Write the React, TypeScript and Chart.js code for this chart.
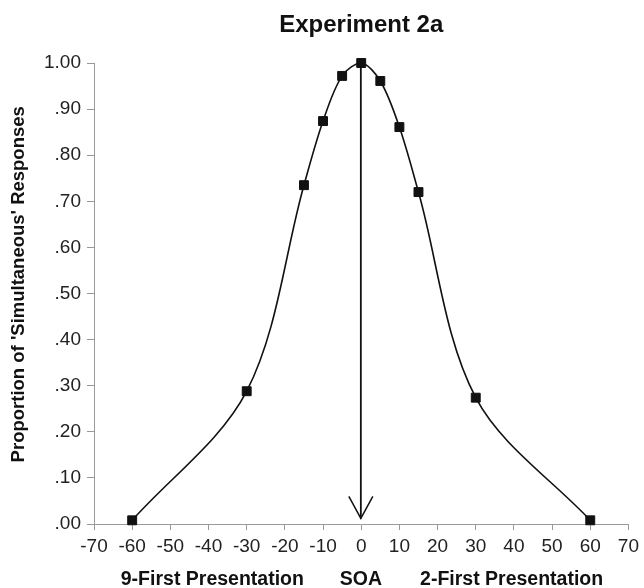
import { useEffect, useRef } from "react";
import { Chart, registerables } from "chart.js";

Chart.register(...registerables);

const FONT = "'Liberation Sans', Arial, Helvetica, sans-serif";

const SOA = [-60, -30, -15, -10, -5, 0, 5, 10, 15, 30, 60];
const PROPORTION = [0.008, 0.288, 0.735, 0.874, 0.972, 1.0, 0.961, 0.861, 0.72, 0.274, 0.008];

const X_MIN = -70;
const X_MAX = 70;
const X_STEP = 10;
const Y_MIN = 0;
const Y_MAX = 1;
const Y_STEP = 0.1;

const TITLE = "Experiment 2a";
const Y_TITLE = "Proportion of 'Simultaneous' Responses";
const X_TITLE_PARTS = ["9-First Presentation", "SOA", "2-First Presentation"];
const X_TITLE_AT = [-39, -0.1, 39.4];

const ARROW_X = -0.1;
const ARROW_FROM = 1.0;
const ARROW_TO = 0.012;

const formatY = (v: number) => (Math.abs(v - 1) < 1e-9 ? "1.00" : v.toFixed(2).replace(/^0/, ""));

const annotations = {
  id: "annotations",
  beforeDatasetsDraw(chart: any) {
    const { ctx, scales } = chart;
    const x = scales.x;
    const y = scales.y;
    const ax = x.getPixelForValue(ARROW_X);
    const y0 = y.getPixelForValue(ARROW_FROM);
    const y1 = y.getPixelForValue(ARROW_TO);
    ctx.save();
    ctx.strokeStyle = "#111";
    ctx.lineWidth = 1.8;
    ctx.beginPath();
    ctx.moveTo(ax, y0);
    ctx.lineTo(ax, y1);
    ctx.stroke();
    ctx.lineWidth = 1.5;
    ctx.beginPath();
    ctx.moveTo(ax - 12, y1 - 22);
    ctx.lineTo(ax, y1);
    ctx.lineTo(ax + 12, y1 - 22);
    ctx.stroke();
    ctx.restore();
  },
  afterDraw(chart: any) {
    const { ctx, scales, chartArea } = chart;
    const x = scales.x;
    const cx = (chartArea.left + chartArea.right) / 2;
    ctx.save();
    ctx.fillStyle = "#111";
    ctx.textAlign = "center";
    ctx.textBaseline = "middle";
    ctx.font = `bold 24px ${FONT}`;
    ctx.fillText(TITLE, cx, 25);
    ctx.font = `bold 19.5px ${FONT}`;
    X_TITLE_PARTS.forEach((t, i) => {
      ctx.fillText(t, x.getPixelForValue(X_TITLE_AT[i]), chartArea.bottom + 56);
    });
    ctx.translate(19, chartArea.top + (chartArea.bottom - chartArea.top) * 0.48);
    ctx.rotate(-Math.PI / 2);
    ctx.font = `bold 18.5px ${FONT}`;
    ctx.fillText(Y_TITLE, 0, 0);
    ctx.restore();
  },
};

export default function App() {
  const ref = useRef<HTMLCanvasElement | null>(null);

  useEffect(() => {
    document.body.style.margin = "0";
    const canvas = ref.current;
    if (!canvas) return;
    Chart.defaults.font.family = FONT;
    const chart = new Chart(canvas, {
      type: "line",
      data: {
        datasets: [
          {
            data: SOA.map((s, i) => ({ x: s, y: PROPORTION[i] })),
            borderColor: "#111",
            borderWidth: 1.6,
            tension: 0.33,
            pointStyle: "rect",
            pointRadius: 6.3,
            pointBorderWidth: 1,
            pointBackgroundColor: "#111",
            pointBorderColor: "#111",
            clip: false as any,
          },
        ],
      },
      options: {
        responsive: false,
        animation: false,
        layout: { padding: { left: 0, right: 11, top: 63, bottom: 0 } },
        plugins: {
          legend: { display: false },
          tooltip: { enabled: false },
          title: { display: false },
        },
        scales: {
          x: {
            type: "linear",
            min: X_MIN,
            max: X_MAX,
            afterFit: (s: any) => {
              s.height = 64;
            },
            ticks: {
              stepSize: X_STEP,
              color: "#222",
              font: { size: 19, family: FONT },
              padding: 5,
              maxRotation: 0,
              autoSkip: false,
            },
            grid: { display: true, drawOnChartArea: false, drawTicks: true, tickLength: 6, color: "#999" },
            border: { color: "#999", width: 1 },
          },
          y: {
            min: Y_MIN,
            max: Y_MAX,
            afterFit: (s: any) => {
              s.width = 94;
            },
            ticks: {
              stepSize: Y_STEP,
              color: "#222",
              font: { size: 19, family: FONT },
              padding: 6,
              callback: (v: any) => formatY(Number(v)),
            },
            grid: { display: true, drawOnChartArea: false, drawTicks: true, tickLength: 7, color: "#999" },
            border: { color: "#999", width: 1 },
          },
        },
      },
      plugins: [annotations],
    });
    return () => chart.destroy();
  }, []);

  return <canvas ref={ref} width={644} height={588} style={{ display: "block" }} />;
}
